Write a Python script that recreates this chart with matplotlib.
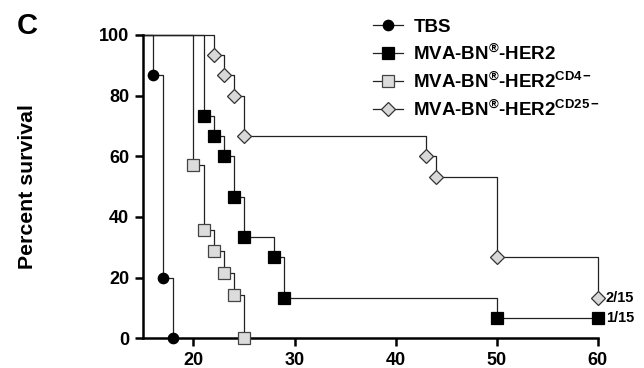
import matplotlib
matplotlib.use('Agg')
import matplotlib.pyplot as plt

plt.rcParams['font.family'] = ['Liberation Sans', 'DejaVu Sans']
plt.rcParams['font.weight'] = 'bold'
plt.rcParams['mathtext.fontset'] = 'custom'
plt.rcParams['mathtext.rm'] = 'Liberation Sans:bold'
plt.rcParams['mathtext.bf'] = 'Liberation Sans:bold'
plt.rcParams['mathtext.it'] = 'Liberation Sans:bold'

# Kaplan-Meier step data (day, percent survival); first point is study start
tbs_days = [15, 16, 17, 18]
tbs_surv = [100, 86.7, 20.0, 0.0]

her2_days = [15, 21, 22, 23, 24, 25, 28, 29, 50, 60]
her2_surv = [100, 73.3, 66.7, 60.0, 46.7, 33.3, 26.7, 13.3, 6.7, 6.7]

cd4_days = [15, 20, 21, 22, 23, 24, 25]
cd4_surv = [100, 57.1, 35.7, 28.6, 21.4, 14.3, 0.0]

cd25_days = [15, 22, 23, 24, 25, 43, 44, 50, 60]
cd25_surv = [100, 93.3, 86.7, 80.0, 66.7, 60.0, 53.3, 26.7, 13.3]

labels = ['TBS',
          r'MVA-BN$^{\circledR}$-HER2',
          r'MVA-BN$^{\circledR}$-HER2$^{\mathrm{CD4}\,\mathbf{-}}$',
          r'MVA-BN$^{\circledR}$-HER2$^{\mathrm{CD25}\,\mathbf{-}}$']

fig = plt.figure(figsize=(6.44, 3.68), dpi=100)
ax = fig.add_axes([0.222, 0.081, 0.706, 0.824])

series = [
    (tbs_days, tbs_surv, 'o', 'black', 'black', 7.5),
    (her2_days, her2_surv, 's', 'black', 'black', 8.3),
    (cd4_days, cd4_surv, 's', '#dcdcdc', '#444444', 8.3),
    (cd25_days, cd25_surv, 'D', '#d8d8d8', '#333333', 7.5),
]

handles = []
for days, surv, mk, fc, ec, ms in series:
    ax.plot(days, surv, drawstyle='steps-post', color='#222222', lw=0.9,
            clip_on=False)
    ax.plot(days[1:], surv[1:], ls='none', marker=mk, ms=ms, mfc=fc, mec=ec,
            mew=0.9, clip_on=False, zorder=3)
    h, = ax.plot([], [], color='#222222', lw=0.9, marker=mk, ms=ms, mfc=fc,
                 mec=ec, mew=0.9)
    handles.append(h)

ax.set_xlim(15, 60)
ax.set_ylim(0, 100)
ax.set_xticks([20, 30, 40, 50, 60])
ax.set_yticks([0, 20, 40, 60, 80, 100])
ax.tick_params(labelsize=13, width=1.8, length=5.5, pad=4.5)
for lbl in ax.get_xticklabels() + ax.get_yticklabels():
    lbl.set_fontweight('bold')
for s in ['top', 'right']:
    ax.spines[s].set_visible(False)
for s in ['left', 'bottom']:
    ax.spines[s].set_linewidth(1.8)

fig.text(28 / 644, 0.493, 'Percent survival', fontsize=15.3, fontweight='bold',
         rotation=90, ha='center', va='center')

ax.text(60.8, cd25_surv[-1], '2/15', fontsize=10.5, fontweight='bold',
        va='center', ha='left')
ax.text(60.8, her2_surv[-1], '1/15', fontsize=10.5, fontweight='bold',
        va='center', ha='left')

fig.text(0.043, 0.93, 'C', fontsize=21, fontweight='bold', ha='center',
         va='center')

leg = fig.legend(handles, labels, loc='upper left',
                 bbox_to_anchor=(0.553, 0.995), frameon=False, fontsize=13.5,
                 handlelength=1.6, handletextpad=0.55, labelspacing=0.42)
for t in leg.get_texts():
    t.set_fontweight('bold')

fig.savefig('out.png', dpi=100)
